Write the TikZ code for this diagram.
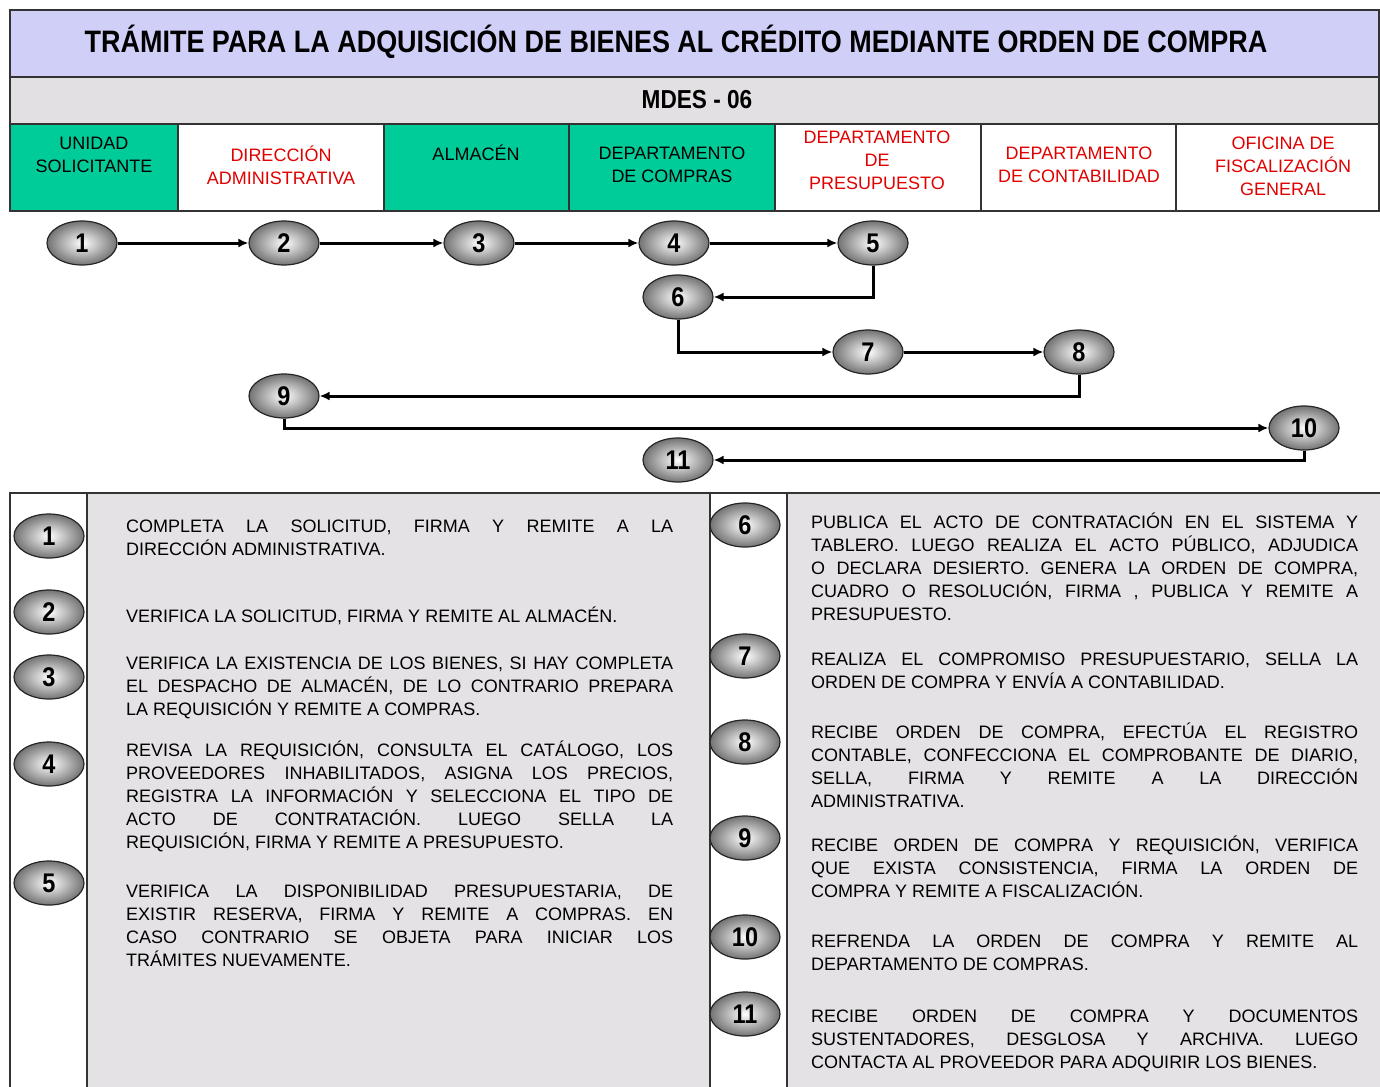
\documentclass[tikz,border=0pt]{standalone}
\usepackage{fontspec}
\setmainfont{Liberation Sans}
\newfontfamily\condfont[FakeStretch=0.87]{Liberation Sans}
\usetikzlibrary{shapes.geometric,arrows.meta}
\definecolor{titulo}{RGB}{208,207,248}
\definecolor{codigo}{RGB}{226,224,226}
\definecolor{verde}{RGB}{0,204,153}
\definecolor{rojo}{RGB}{225,0,0}
\definecolor{panel}{RGB}{228,226,228}

\begin{document}
\begin{tikzpicture}[x=1pt,y=-1pt,
  paso/.style={ellipse, draw=black!85, line width=1.2pt, minimum width=70pt, minimum height=44pt, inner sep=0pt,
    shading=radial, inner color=white, outer color=black!55, font=\condfont\bfseries\fontsize{27}{27}\selectfont},
  flecha/.style={-{Latex[length=10pt,width=9pt]}, line width=3pt},
  borde/.style={draw=black!80, line width=1.6pt},
  cab/.style={align=center, inner sep=0pt, font=\fontsize{18}{23}\selectfont},
  desc/.style={text width=547pt, align=justify, inner sep=0pt, anchor=base west, font=\fontsize{18}{23}\selectfont}]
\useasboundingbox (0,0) rectangle (1380,1086);
\clip (0,0) rectangle (1380,1086);
\fill[white] (0,0) rectangle (1380,1086);

\draw[borde, fill=titulo] (10,10) rectangle (1379,77);
\draw[borde, fill=codigo] (10,77) rectangle (1379,124);
\node[font=\condfont\bfseries\fontsize{31}{31}\selectfont] (titulo) at (676,42) {TRÁMITE PARA LA ADQUISICIÓN DE BIENES AL CRÉDITO MEDIANTE ORDEN DE COMPRA};
\node[font=\condfont\bfseries\fontsize{26}{26}\selectfont] (codigo) at (697,100) {MDES - 06};

\draw[borde, fill=verde] (10,124) rectangle (178,211);
\draw[borde, fill=white] (178,124) rectangle (384,211);
\draw[borde, fill=verde] (384,124) rectangle (569,211);
\draw[borde, fill=verde] (569,124) rectangle (775,211);
\draw[borde, fill=white] (775,124) rectangle (981,211);
\draw[borde, fill=white] (981,124) rectangle (1176,211);
\draw[borde, fill=white] (1176,124) rectangle (1379,211);
\node[cab] (unidad) at (94,155) {UNIDAD\\SOLICITANTE};
\node[cab, text=rojo] (direccion) at (281,165) {DIRECCIÓN\\ADMINISTRATIVA};
\node[cab] (almacen) at (476,153) {ALMACÉN};
\node[cab] (compras) at (672,165) {DEPARTAMENTO\\DE COMPRAS};
\node[cab, text=rojo] (presupuesto) at (877,160) {DEPARTAMENTO\\DE\\PRESUPUESTO};
\node[cab, text=rojo] (contabilidad) at (1079,165) {DEPARTAMENTO\\DE CONTABILIDAD};
\node[cab, text=rojo] (fiscalizacion) at (1283,166) {OFICINA DE\\FISCALIZACIÓN\\GENERAL};

\node[paso] (f1) at (82,243) {1};
\node[paso] (f2) at (284,243) {2};
\node[paso] (f3) at (479,243) {3};
\node[paso] (f4) at (674,243) {4};
\node[paso] (f5) at (873,243) {5};
\node[paso] (f6) at (678,297) {6};
\node[paso] (f7) at (868,352) {7};
\node[paso] (f8) at (1079,352) {8};
\node[paso] (f9) at (284,396) {9};
\node[paso] (f10) at (1304,428) {10};
\node[paso] (f11) at (678,460) {11};
\draw[flecha] (f1) -- (f2);
\draw[flecha] (f2) -- (f3);
\draw[flecha] (f3) -- (f4);
\draw[flecha] (f4) -- (f5);
\draw[flecha] (f5.south) |- (f6.east);
\draw[flecha] (f6.south) |- (f7.west);
\draw[flecha] (f7) -- (f8);
\draw[flecha] (f8.south) |- (f9.east);
\draw[flecha] (f9.south) |- (f10.west);
\draw[flecha] (f10.south) |- (f11.east);

\fill[white] (10,493) rectangle (1395,1100);
\fill[panel] (87,493) rectangle (710,1100);
\fill[panel] (787,493) rectangle (1395,1100);
\draw[borde] (10,493) rectangle (1395,1100);
\draw[borde] (87,493) -- (87,1100);
\draw[borde] (710,493) -- (710,1100);
\draw[borde] (787,493) -- (787,1100);

\node[paso] (p1) at (49,536) {1};
\node[paso] (p2) at (49,612) {2};
\node[paso] (p3) at (49,677) {3};
\node[paso] (p4) at (49,764) {4};
\node[paso] (p5) at (49,883) {5};
\node[paso] (p6) at (745,525) {6};
\node[paso] (p7) at (745,656) {7};
\node[paso] (p8) at (745,742) {8};
\node[paso] (p9) at (745,838) {9};
\node[paso] (p10) at (745,937) {10};
\node[paso] (p11) at (745,1014) {11};

\node[desc] (d1) at (126,532) {COMPLETA LA SOLICITUD, FIRMA Y REMITE A LA\linebreak DIRECCIÓN ADMINISTRATIVA.};
\node[desc] (d2) at (126,622) {VERIFICA LA SOLICITUD, FIRMA Y REMITE AL ALMACÉN.};
\node[desc] (d3) at (126,669) {VERIFICA LA EXISTENCIA DE LOS BIENES, SI HAY COMPLETA\linebreak EL DESPACHO DE ALMACÉN, DE LO CONTRARIO PREPARA\linebreak LA REQUISICIÓN Y REMITE A COMPRAS.};
\node[desc] (d4) at (126,756) {REVISA LA REQUISICIÓN, CONSULTA EL CATÁLOGO, LOS\linebreak PROVEEDORES INHABILITADOS, ASIGNA LOS PRECIOS,\linebreak REGISTRA LA INFORMACIÓN Y SELECCIONA EL TIPO DE\linebreak ACTO DE CONTRATACIÓN. LUEGO SELLA LA\linebreak REQUISICIÓN, FIRMA Y REMITE A PRESUPUESTO.};
\node[desc] (d5) at (126,897) {VERIFICA LA DISPONIBILIDAD PRESUPUESTARIA, DE\linebreak EXISTIR RESERVA, FIRMA Y REMITE A COMPRAS. EN\linebreak CASO CONTRARIO SE OBJETA PARA INICIAR LOS\linebreak TRÁMITES NUEVAMENTE.};
\node[desc] (d6) at (811,528) {PUBLICA EL ACTO DE CONTRATACIÓN EN EL SISTEMA Y\linebreak TABLERO. LUEGO REALIZA EL ACTO PÚBLICO, ADJUDICA\linebreak O DECLARA DESIERTO. GENERA LA ORDEN DE COMPRA,\linebreak CUADRO O RESOLUCIÓN, FIRMA , PUBLICA Y REMITE A\linebreak PRESUPUESTO.};
\node[desc] (d7) at (811,665) {REALIZA EL COMPROMISO PRESUPUESTARIO, SELLA LA\linebreak ORDEN DE COMPRA Y ENVÍA A CONTABILIDAD.};
\node[desc] (d8) at (811,738) {RECIBE ORDEN DE COMPRA, EFECTÚA EL REGISTRO\linebreak CONTABLE, CONFECCIONA EL COMPROBANTE DE DIARIO,\linebreak SELLA, FIRMA Y REMITE A LA DIRECCIÓN\linebreak ADMINISTRATIVA.};
\node[desc] (d9) at (811,851) {RECIBE ORDEN DE COMPRA Y REQUISICIÓN, VERIFICA\linebreak QUE EXISTA CONSISTENCIA, FIRMA LA ORDEN DE\linebreak COMPRA Y REMITE A FISCALIZACIÓN.};
\node[desc] (d10) at (811,947) {REFRENDA LA ORDEN DE COMPRA Y REMITE AL\linebreak DEPARTAMENTO DE COMPRAS.};
\node[desc] (d11) at (811,1022) {RECIBE ORDEN DE COMPRA Y DOCUMENTOS\linebreak SUSTENTADORES, DESGLOSA Y ARCHIVA. LUEGO\linebreak CONTACTA AL PROVEEDOR PARA ADQUIRIR LOS BIENES.};
\end{tikzpicture}
\end{document}
